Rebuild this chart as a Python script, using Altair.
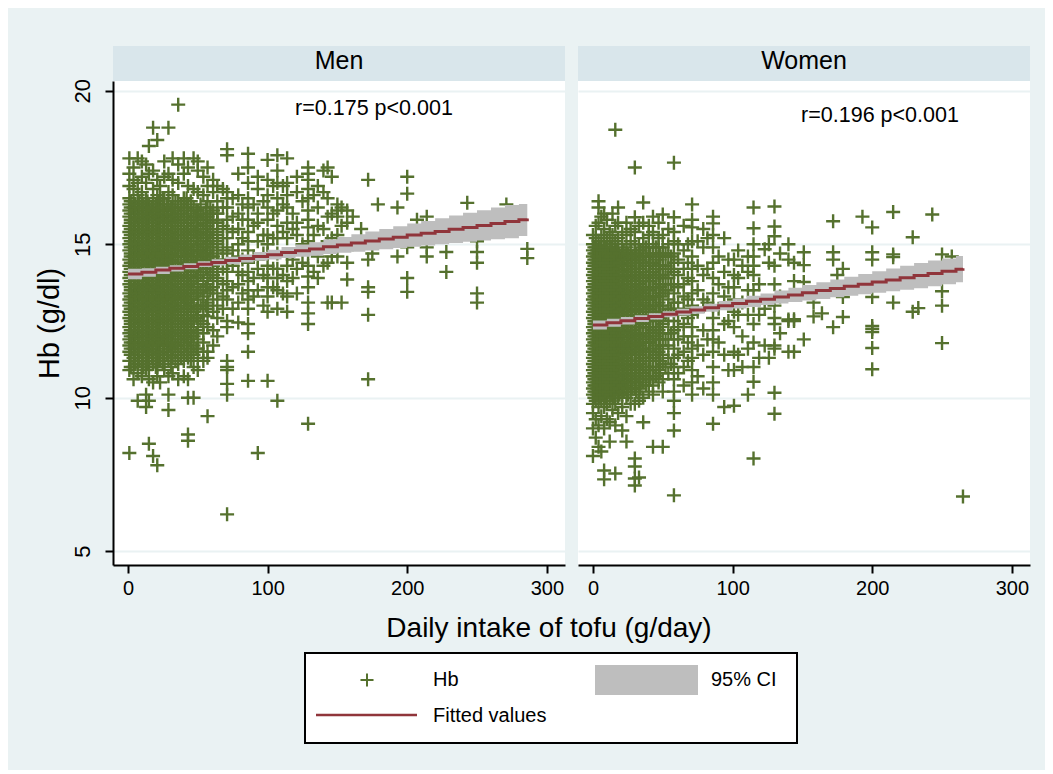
import altair as alt
import pandas as pd

FONT = "Liberation Sans"
BG = "#eaf2f3"
HEAD = "#d9e6eb"
GREEN = "#55712e"
RED = "#90353b"
GRAY = "#bebebe"
PLUS = "M-1,0H1M0,-1V1"

# ---------- Men: tofu intake columns and the Hb values read in each column
men_x = [1,4,7,10,13,15,18,21,23,26,29,32,36,40,43,47,50,54,57,61,64,68,71,75,79,82,86,90,93,97,100,104,107,111,114,118,121,125,129,133,136,140,143,146,150,153,157,161,167,172,175,179,193,200,207,214,228,243,250,271,286]
m01 = [8.2,10.9,11.2,11.5,11.7,11.9,12.1,12.3,12.6,12.8,13.0,13.2,13.4,13.7,13.9,14.1,14.3,14.5,14.8,15.0,15.2,15.4,15.6,15.9,16.1,16.3,16.5,16.9,17.3,17.8]
m02 = [10.6,11.0,11.3,11.6,11.8,12.0,12.2,12.5,12.7,12.9,13.1,13.3,13.5,13.8,14.0,14.2,14.4,14.6,14.9,15.1,15.3,15.5,15.7,16.0,16.2,16.4,16.8,17.1,17.5]
m03 = [9.9,10.8,11.1,11.4,11.6,11.9,12.1,12.4,12.6,12.8,13.0,13.3,13.5,13.7,13.9,14.2,14.4,14.7,14.9,15.1,15.3,15.6,15.8,16.0,16.3,16.6,17.0,17.8]
m04 = [10.7,11.0,11.2,11.5,11.8,12.0,12.3,12.5,12.7,12.9,13.2,13.4,13.6,13.8,14.1,14.3,14.5,14.8,15.0,15.2,15.4,15.7,15.9,16.1,16.4,16.7,17.2,17.7]
m05 = [9.7,10.1,10.9,11.3,11.5,11.7,12.0,12.2,12.4,12.7,12.9,13.1,13.3,13.6,13.8,14.0,14.3,14.5,14.7,15.0,15.2,15.4,15.6,15.9,16.2,16.5,17.0,17.6]
m06 = [8.5,9.9,10.6,11.0,11.2,11.5,11.8,12.1,12.3,12.6,12.8,13.0,13.2,13.5,13.7,13.9,14.1,14.4,14.6,14.8,15.1,15.3,15.5,15.8,16.0,16.3,17.3,18.2]
m07 = [8.1,10.5,11.1,11.4,11.6,11.9,12.2,12.4,12.7,12.9,13.1,13.4,13.6,13.8,14.0,14.2,14.5,14.7,14.9,15.2,15.4,15.6,15.9,16.1,16.4,16.8,17.4,18.8]
m08 = [7.8,10.7,11.0,11.3,11.5,11.8,12.0,12.3,12.5,12.8,13.0,13.2,13.5,13.7,13.9,14.2,14.4,14.6,14.9,15.1,15.3,15.5,15.8,16.0,16.3,16.6,17.1,18.4]
m09 = [10.5,11.2,11.4,11.7,11.9,12.1,12.4,12.6,12.9,13.1,13.3,13.6,13.8,14.1,14.3,14.5,14.8,15.0,15.2,15.5,15.7,15.9,16.2,16.5,16.9]
m10 = [10.9,11.1,11.3,11.6,11.9,12.1,12.3,12.6,12.8,13.1,13.3,13.5,13.8,14.0,14.3,14.5,14.7,15.0,15.2,15.4,15.7,15.9,16.1,16.5,17.2,17.7]
m11 = [9.6,10.1,10.7,11.2,11.5,11.7,12.0,12.2,12.5,12.7,12.9,13.2,13.4,13.7,13.9,14.1,14.4,14.6,14.9,15.1,15.3,15.6,15.8,16.1,16.3,16.7,17.3,18.8]
m12 = [10.8,11.3,11.6,11.8,12.1,12.3,12.6,12.8,13.0,13.3,13.5,13.8,14.0,14.2,14.5,14.7,15.0,15.2,15.4,15.7,15.9,16.2,16.6,17.1,17.8]
m13 = [10.6,11.1,11.4,11.7,11.9,12.2,12.4,12.7,12.9,13.2,13.4,13.6,13.9,14.1,14.4,14.6,14.9,15.1,15.3,15.6,15.8,16.0,16.4,17.0,17.6,19.55]
m14 = [10.7,11.2,11.5,11.8,12.0,12.3,12.5,12.8,13.0,13.3,13.5,13.8,14.1,14.3,14.6,14.8,15.1,15.3,15.5,15.8,16.1,16.5,17.3,17.8]
m15 = [8.8,8.6,10.0,10.6,11.3,11.6,11.9,12.1,12.4,12.6,12.9,13.1,13.4,13.7,13.9,14.2,14.4,14.7,14.9,15.2,15.4,15.7,15.9,16.3,16.9,17.5]
m16 = [10.0,11.0,11.4,11.7,12.0,12.3,12.5,12.8,13.0,13.3,13.6,13.8,14.1,14.3,14.6,14.8,15.1,15.4,15.6,15.9,16.2,16.8,17.8]
m17 = [10.9,11.3,11.6,11.9,12.2,12.6,12.9,13.2,13.4,13.7,14.0,14.2,14.5,14.8,15.0,15.3,15.6,15.8,16.1,16.7,17.4,17.7]
m18 = [11.2,11.5,11.8,12.1,12.4,12.7,13.0,13.3,13.5,13.8,14.1,14.4,14.7,14.9,15.2,15.5,15.7,16.0,16.6,17.2]
m19 = [9.4,11.3,11.5,12.3,12.65,12.9,13.1,13.4,13.7,13.9,14.2,14.5,14.8,15.1,15.3,15.6,15.9,16.4,16.9,17.5]
m20 = [11.7,12.2,12.8,13.2,13.6,14.0,14.3,14.6,14.9,15.2,15.5,15.8,16.1,16.7,17.1]
m21 = [12.0,12.6,13.0,13.4,13.8,14.1,14.4,14.7,15.0,15.3,15.7,16.0,16.4,16.9]
m22 = [12.9,13.3,13.7,14.2,14.5,14.8,15.2,15.6,16.2,16.8]
m23 = [6.2,10.1,10.45,10.9,11.0,11.2,12.3,12.5,13.2,13.5,13.8,14.1,14.4,14.7,14.9,15.2,15.5,15.8,16.2,16.5,16.7,17.9,18.1]
m24 = [12.9,13.6,14.3,14.8,15.4,15.9,16.5]
m25 = [12.45,13.1,13.7,14.1,14.6,15.0,15.5,16.0,16.6,17.3]
m26 = [13.4,14.0,14.5,15.2,15.8,16.3]
m27 = [10.55,11.5,12.1,12.4,12.9,13.2,13.5,13.8,14.1,14.4,14.8,15.1,15.4,15.8,16.2,16.5,17.0,17.5,17.95]
m28 = [13.3,13.9,14.6,15.6,16.3]
m29 = [8.2,13.5,14.2,14.5,15.1,15.7,16.0,16.8,17.2]
m30 = [13.0,14.0,14.7,15.3,16.4]
m31 = [10.55,12.8,13.3,13.6,13.9,14.3,14.7,15.0,15.3,15.8,16.2,16.6,17.1,17.75]
m32 = [13.6,14.2,15.2,16.0,16.9]
m33 = [9.9,12.9,13.5,13.9,14.2,14.7,15.2,15.6,16.1,16.5,17.0,17.4,17.9]
m34 = [13.4,14.0,15.4,16.3,16.9]
m35 = [12.8,13.3,13.8,14.3,14.6,15.2,15.7,16.2,16.6,17.0,17.8]
m36 = [13.9,14.5,15.5,16.0]
m37 = [13.4,14.2,15.3,15.7,16.7,17.2]
m38 = [14.4,15.0,16.4]
m39 = [9.15,12.4,12.75,13.1,13.6,13.95,14.3,14.7,15.1,15.55,15.8,16.1,16.5,16.8,17.1,17.3,17.5]
m40 = [14.1,15.3,16.6]
m41 = [13.9,14.6,15.6,16.2,16.9]
m42 = [14.3,15.5,16.7,17.4]
m43 = [13.1,14.4,15.1,15.9,16.5,17.5]
m44 = [13.1,14.6,15.2,16.0,17.2]
m45 = [14.6,15.3,15.9,16.1,16.3]
m46 = [13.1,15.6,16.2]
m47 = [13.85,14.4,15.7,16.1]
m48 = [15.0,15.9]
m49 = [15.5]
m50 = [10.6,12.7,13.45,13.6,14.5,17.1]
m51 = [14.7]
m52 = [16.3]
m53 = [14.6,16.2]
m54 = [13.45,13.9,14.9,16.65,17.2]
m55 = [15.8]
m56 = [14.6,14.9,15.9]
m57 = [14.1,14.75]
m58 = [16.35]
m59 = [13.1,13.4,14.4,14.75,15.1]
m60 = [16.3]
m61 = [14.55,14.85]
men_columns = [m01,m02,m03,m04,m05,m06,m07,m08,m09,m10,m11,m12,m13,m14,m15,m16,m17,m18,m19,m20,m21,m22,m23,m24,m25,m26,m27,m28,m29,m30,m31,m32,m33,m34,m35,m36,m37,m38,m39,m40,m41,m42,m43,m44,m45,m46,m47,m48,m49,m50,m51,m52,m53,m54,m55,m56,m57,m58,m59,m60,m61]

# second reading of the crowded part of the men's cloud
men_x2 = [2,5,8,11,14,17,20,22,25,28,31,34,38,42,45,49,52,56,59,64]
n01 = [11.0,11.4,11.6,11.8,12.0,12.2,12.4,12.5,12.7,12.9,13.1,13.3,13.5,13.6,13.8,14.0,14.2,14.4,14.6,14.7,14.9,15.1,15.3,15.5,15.7,15.8,16.0,16.2,16.4]
n02 = [11.1,11.3,11.7,12.0,12.1,12.3,12.4,12.6,12.8,13.0,13.2,13.4,13.6,13.7,13.9,14.1,14.3,14.5,14.6,14.8,15.0,15.2,15.4,15.6,15.8,16.1,16.3]
n03 = [11.2,11.5,11.8,12.0,12.2,12.3,12.5,12.7,12.9,13.1,13.3,13.4,13.6,13.8,14.0,14.1,14.3,14.6,14.8,15.0,15.2,15.4,15.5,15.7,15.9,16.2,16.4]
n04 = [11.0,11.3,11.6,11.7,11.9,12.2,12.4,12.6,12.8,13.0,13.1,13.3,13.5,13.7,13.9,14.0,14.2,14.4,14.6,14.7,14.9,15.1,15.3,15.5,15.6,15.8,16.0,16.2,16.3]
n05 = [11.1,11.4,11.6,11.8,12.1,12.3,12.5,12.6,12.8,13.0,13.2,13.4,13.5,13.7,13.9,14.1,14.3,14.4,14.6,14.8,15.1,15.3,15.5,15.7,15.8,16.0,16.4]
n06 = [11.3,11.6,11.7,11.9,12.0,12.2,12.4,12.7,12.9,13.1,13.3,13.5,13.6,13.8,14.0,14.2,14.3,14.5,14.7,14.9,15.0,15.2,15.4,15.6,15.9,16.1,16.2]
n07 = [11.0,11.3,11.5,11.8,12.0,12.1,12.3,12.5,12.6,12.8,13.0,13.2,13.3,13.5,13.7,13.9,14.1,14.3,14.4,14.6,14.8,15.0,15.3,15.5,15.7,15.8,16.0,16.3]
n08 = [11.2,11.4,11.7,11.9,12.2,12.4,12.6,12.7,12.9,13.1,13.4,13.6,13.8,14.0,14.1,14.3,14.5,14.7,14.8,15.0,15.2,15.4,15.6,15.9,16.1,16.4]
n09 = [11.1,11.5,11.8,12.0,12.3,12.5,12.7,12.8,13.0,13.2,13.4,13.5,13.7,13.9,14.0,14.2,14.4,14.6,14.7,14.9,15.1,15.3,15.6,15.8,16.0,16.2,16.5]
n10 = [11.4,11.7,11.9,12.0,12.2,12.4,12.5,12.7,12.9,13.1,13.2,13.4,13.6,13.8,13.9,14.1,14.3,14.5,14.8,15.0,15.2,15.4,15.5,15.7,15.9,16.1,16.3]
n11 = [11.0,11.3,11.6,11.8,12.1,12.3,12.4,12.6,12.8,13.0,13.1,13.3,13.5,13.7,13.9,14.0,14.2,14.4,14.5,14.7,14.9,15.1,15.2,15.4,15.6,15.8,16.0,16.2]
n12 = [11.2,11.5,11.7,12.0,12.2,12.5,12.7,12.9,13.0,13.2,13.4,13.6,13.8,14.0,14.1,14.3,14.6,14.8,15.0,15.1,15.3,15.5,15.7,15.9,16.1,16.4]
n13 = [11.3,11.6,11.9,12.1,12.3,12.5,12.6,12.8,13.1,13.3,13.5,13.7,13.9,14.0,14.2,14.4,14.6,14.8,14.9,15.1,15.3,15.5,15.7,16.0,16.2,16.3]
n14 = [11.4,11.7,12.0,12.2,12.4,12.6,12.9,13.1,13.2,13.4,13.6,13.9,14.1,14.3,14.5,14.7,14.9,15.0,15.2,15.4,15.6,15.9,16.2,16.5]
n15 = [11.2,11.5,11.8,12.0,12.2,12.5,12.7,13.0,13.2,13.5,13.7,13.8,14.0,14.3,14.5,14.8,15.0,15.3,15.5,15.8,16.0,16.4]
n16 = [11.6,12.1,12.6,12.9,13.4,13.9,14.1,14.4,14.6,14.9,15.2,15.4,15.6,15.9,16.1]
n17 = [12.5,13.0,13.5,14.0,14.3,14.6,14.8,15.1,15.3,15.5,15.8,16.0,16.3]
n18 = [13.0,13.6,14.2,14.5,14.7,15.0,15.3,15.6,15.9,16.2]
n19 = [13.5,14.0,14.3,14.6,14.9,15.2,15.4,15.7,16.0,16.2]
n20 = [13.9,14.2,14.5,14.8,15.1,15.4,15.7,16.0]
men_columns2 = [n01,n02,n03,n04,n05,n06,n07,n08,n09,n10,n11,n12,n13,n14,n15,n16,n17,n18,n19,n20]

# ---------- Women
wom_x = [0,2,4,6,8,10,12,14,16,18,21,24,27,30,33,36,40,43,47,50,54,58,61,65,68,71,75,79,82,86,90,94,97,101,104,107,111,115,119,123,126,130,134,140,144,151,158,164,172,175,179,193,200,215,229,233,243,250,257,265]
w01 = [8.1,9.0,9.5,9.8,10.1,10.3,10.5,10.7,10.9,11.1,11.3,11.5,11.7,11.9,12.1,12.3,12.6,12.8,13.0,13.2,13.4,13.6,13.8,14.0,14.2,14.4,14.6,14.8,15.0,15.3]
w02 = [8.7,9.3,9.9,10.2,10.4,10.6,10.8,11.0,11.2,11.4,11.6,11.8,12.0,12.2,12.4,12.7,12.9,13.1,13.3,13.5,13.7,13.9,14.1,14.3,14.5,14.7,14.9,15.2,15.6]
w03 = [8.4,9.1,9.7,10.0,10.3,10.5,10.7,10.9,11.1,11.3,11.5,11.7,11.9,12.1,12.3,12.5,12.8,13.0,13.2,13.4,13.6,13.8,14.0,14.2,14.4,14.6,14.8,15.1,15.7,16.2,16.4]
w04 = [8.25,9.4,9.9,10.2,10.4,10.6,10.8,11.0,11.2,11.4,11.6,11.8,12.0,12.2,12.4,12.6,12.9,13.1,13.3,13.5,13.7,13.9,14.1,14.3,14.5,14.7,14.9,15.3,15.9]
w05 = [7.34,7.63,9.0,9.7,10.1,10.3,10.5,10.7,10.9,11.1,11.3,11.5,11.7,11.9,12.1,12.3,12.5,12.7,13.0,13.2,13.4,13.6,13.8,14.0,14.2,14.4,14.6,14.8,15.1,15.5,16.0]
w06 = [9.3,9.8,10.0,10.3,10.6,10.8,11.0,11.2,11.4,11.6,11.9,12.1,12.3,12.5,12.7,12.9,13.1,13.3,13.6,13.8,14.0,14.2,14.4,14.7,14.9,15.2,15.8]
w07 = [8.57,9.2,9.9,10.2,10.5,10.7,10.9,11.1,11.3,11.5,11.7,11.9,12.2,12.4,12.6,12.8,13.0,13.2,13.4,13.7,13.9,14.1,14.3,14.5,14.8,15.0,15.4]
w08 = [9.6,10.0,10.3,10.6,10.8,11.0,11.2,11.4,11.6,11.8,12.0,12.3,12.5,12.7,12.9,13.1,13.4,13.6,13.8,14.0,14.3,14.5,14.7,14.9,15.3,16.0]
w09 = [7.53,9.1,9.8,10.1,10.4,10.6,10.9,11.1,11.3,11.5,11.7,11.9,12.1,12.4,12.6,12.8,13.0,13.3,13.5,13.7,13.9,14.2,14.4,14.6,14.8,15.1,15.6,18.73]
w10 = [9.5,10.0,10.2,10.5,10.7,11.0,11.2,11.4,11.6,11.8,12.1,12.3,12.5,12.7,13.0,13.2,13.4,13.7,13.9,14.1,14.4,14.6,14.8,15.2,15.7,16.2]
w11 = [8.93,9.7,10.1,10.4,10.6,10.9,11.1,11.3,11.6,11.8,12.0,12.2,12.5,12.7,12.9,13.1,13.4,13.6,13.8,14.1,14.3,14.5,14.7,15.0,15.4]
w12 = [8.57,9.4,10.0,10.3,10.5,10.8,11.0,11.3,11.5,11.7,11.9,12.2,12.4,12.6,12.9,13.1,13.3,13.5,13.8,14.0,14.2,14.5,14.7,14.9,15.3,15.7]
w13 = [9.8,10.2,10.5,10.7,11.0,11.2,11.5,11.7,12.0,12.2,12.4,12.7,12.9,13.2,13.4,13.6,13.9,14.1,14.3,14.6,14.8,15.1,15.5]
w14 = [7.14,7.37,7.76,8.02,9.8,10.3,10.6,10.9,11.1,11.4,11.6,11.9,12.1,12.3,12.6,12.8,13.1,13.3,13.5,13.8,14.0,14.2,14.5,14.7,15.0,15.4,15.88,17.5]
w15 = [7.4,9.9,10.1,10.4,10.7,11.0,11.2,11.5,11.7,12.0,12.3,12.5,12.8,13.0,13.3,13.5,13.7,14.0,14.2,14.5,14.8,15.0,15.6]
w16 = [9.2,10.0,10.5,10.8,11.0,11.3,11.6,11.8,12.1,12.4,12.6,12.9,13.1,13.4,13.6,13.9,14.1,14.4,14.6,14.9,15.2,15.7,16.36]
w17 = [10.2,10.6,10.9,11.2,11.5,11.8,12.1,12.3,12.6,12.9,13.2,13.5,13.8,14.0,14.3,14.6,14.9,15.3,15.6]
w18 = [8.4,10.1,10.4,10.7,11.0,11.3,11.6,11.9,12.2,12.5,12.8,13.0,13.3,13.6,13.9,14.1,14.4,14.7,15.0,15.4,15.9]
w19 = [10.5,10.9,11.2,11.5,11.9,12.2,12.5,12.8,13.1,13.4,13.7,14.0,14.3,14.6,14.9,15.2,15.7]
w20 = [8.4,10.2,10.6,11.1,11.4,11.7,12.1,12.4,12.7,13.0,13.4,13.7,14.0,14.3,14.6,14.9,15.3,15.97]
w21 = [10.8,11.3,11.7,12.1,12.5,12.9,13.2,13.5,13.9,14.2,14.6,15.0,15.5]
w22 = [6.82,8.93,9.5,9.9,10.2,10.6,11.0,11.3,11.6,11.9,12.2,12.5,12.8,13.1,13.4,13.7,14.1,14.4,14.7,15.1,15.4,15.88,17.66]
w23 = [10.8,11.4,11.9,12.3,12.7,13.1,13.6,14.0,14.5,15.0]
w24 = [10.4,11.0,11.5,12.0,12.4,12.9,13.3,13.7,14.2,14.8,15.6]
w25 = [11.2,11.8,12.6,13.2,13.9,14.4,15.0]
w26 = [10.1,10.5,10.9,11.3,11.6,12.0,12.3,12.7,13.0,13.4,13.8,14.2,14.6,15.1,15.55,15.8,16.3]
w27 = [10.7,11.7,12.8,13.5,14.3,15.1]
w28 = [10.3,11.4,12.2,13.2,14.0,14.9,15.5]
w29 = [11.9,13.1,14.2,15.2]
w30 = [9.15,10.1,10.5,11.0,11.5,11.9,12.2,12.6,13.0,13.4,13.9,14.4,14.9,15.3,15.68,15.9]
w31 = [11.8,12.9,13.7,14.6]
w32 = [9.7,11.4,12.4,13.3,14.1,15.2]
w33 = [10.9,12.5,13.6,14.5]
w34 = [9.74,10.9,11.5,12.3,12.8,13.2,13.6,14.0,14.5]
w35 = [11.4,12.7,13.9,14.8]
w36 = [11.0,12.0,13.1,14.3]
w37 = [10.1,11.6,12.7,13.5,14.1,14.6]
w38 = [8.02,10.52,11.0,11.8,12.4,13.0,13.5,14.0,14.3,14.6,15.0,15.52,16.2]
w39 = [11.3,12.7,13.7]
w40 = [11.7,12.9,14.84]
w41 = [11.3,14.4,15.0]
w42 = [9.48,10.16,11.6,11.7,12.4,12.6,13.0,13.7,14.3,15.26,15.58,16.23]
w43 = [12.1,13.3,14.7]
w44 = [11.5,12.55,12.5,14.5,15.0]
w45 = [11.5,12.56,12.5,14.4,13.8]
w46 = [11.9,13.77,14.32,14.74]
w47 = [12.65,13.1]
w48 = [12.75]
w49 = [12.3,14.5,14.74,15.75]
w50 = [14.0]
w51 = [12.63,13.28,14.2]
w52 = [15.9]
w53 = [10.93,11.62,12.14,12.25,12.34,13.28,14.5,14.74,15.55]
w54 = [13.1,14.58,14.67,16.05]
w55 = [12.8,15.23]
w56 = [12.92]
w57 = [15.97]
w58 = [11.78,13.0,13.47,14.67]
w59 = [14.6]
w60 = [6.78]
wom_columns = [w01,w02,w03,w04,w05,w06,w07,w08,w09,w10,w11,w12,w13,w14,w15,w16,w17,w18,w19,w20,w21,w22,w23,w24,w25,w26,w27,w28,w29,w30,w31,w32,w33,w34,w35,w36,w37,w38,w39,w40,w41,w42,w43,w44,w45,w46,w47,w48,w49,w50,w51,w52,w53,w54,w55,w56,w57,w58,w59,w60]

# second reading of the crowded part of the women's cloud
wom_x2 = [1,3,5,7,9,11,13,15,17,19,22,25,28,31,34,38,41,45,48,52,56]
v01 = [10.0,10.2,10.4,10.6,10.8,11.0,11.2,11.4,11.6,11.8,12.0,12.2,12.4,12.5,12.7,12.9,13.1,13.3,13.5,13.7,13.9,14.1,14.3,14.5,14.7,14.9]
v02 = [10.1,10.3,10.5,10.7,10.9,11.1,11.3,11.5,11.7,11.9,12.1,12.3,12.4,12.6,12.8,13.0,13.2,13.4,13.6,13.8,14.0,14.2,14.4,14.6,14.8]
v03 = [10.0,10.2,10.4,10.6,10.8,11.0,11.2,11.4,11.5,11.7,11.9,12.1,12.3,12.5,12.7,12.9,13.1,13.3,13.5,13.7,13.9,14.1,14.3,14.5,14.9]
v04 = [10.1,10.3,10.5,10.7,10.9,11.1,11.3,11.5,11.6,11.8,12.0,12.2,12.4,12.6,12.8,13.0,13.2,13.4,13.6,13.7,13.9,14.2,14.4,14.6,14.8]
v05 = [10.0,10.2,10.4,10.6,10.8,11.0,11.2,11.4,11.6,11.8,11.9,12.1,12.3,12.5,12.7,12.9,13.1,13.3,13.5,13.8,14.0,14.2,14.4,14.7,14.9]
v06 = [10.2,10.4,10.6,10.8,11.0,11.2,11.4,11.5,11.7,11.9,12.1,12.3,12.5,12.7,12.9,13.1,13.3,13.5,13.7,13.9,14.1,14.3,14.5,14.7]
v07 = [10.1,10.3,10.5,10.7,10.9,11.1,11.3,11.5,11.7,11.9,12.0,12.2,12.4,12.6,12.8,13.0,13.2,13.4,13.6,13.8,14.0,14.2,14.4,14.6,14.9]
v08 = [10.0,10.2,10.4,10.6,10.8,11.0,11.2,11.4,11.6,11.8,12.0,12.2,12.3,12.5,12.7,12.9,13.1,13.3,13.5,13.7,13.9,14.1,14.3,14.5,14.7]
v09 = [10.3,10.5,10.7,10.9,11.1,11.3,11.5,11.7,11.9,12.1,12.3,12.5,12.7,12.8,13.0,13.2,13.4,13.6,13.8,14.0,14.2,14.4,14.6,14.8]
v10 = [10.1,10.3,10.5,10.7,10.9,11.1,11.3,11.4,11.6,11.8,12.0,12.2,12.4,12.6,12.8,13.0,13.2,13.4,13.6,13.8,14.0,14.2,14.4,14.7]
v11 = [10.2,10.4,10.6,10.8,11.0,11.2,11.4,11.6,11.8,12.0,12.2,12.3,12.5,12.7,12.9,13.1,13.3,13.5,13.7,13.9,14.1,14.3,14.5,14.8]
v12 = [10.1,10.3,10.5,10.8,11.0,11.2,11.4,11.6,11.8,12.0,12.1,12.3,12.5,12.8,13.0,13.2,13.4,13.6,13.9,14.1,14.3,14.5,14.7]
v13 = [10.3,10.6,10.8,11.0,11.2,11.4,11.6,11.8,12.0,12.2,12.4,12.6,12.8,13.0,13.2,13.4,13.7,13.9,14.1,14.4,14.6]
v14 = [10.2,10.5,10.7,11.0,11.2,11.5,11.7,11.9,12.1,12.4,12.6,12.8,13.0,13.3,13.5,13.7,13.9,14.2,14.4,14.7]
v15 = [10.3,10.6,10.9,11.1,11.4,11.6,11.9,12.1,12.3,12.5,12.7,13.0,13.2,13.4,13.6,13.9,14.2,14.5,14.8]
v16 = [10.4,10.7,11.0,11.3,11.5,11.8,12.0,12.3,12.5,12.8,13.0,13.3,13.6,13.8,14.0,14.3,14.6,14.9]
v17 = [10.6,10.9,11.2,11.5,11.8,12.0,12.3,12.6,12.9,13.2,13.5,13.8,14.1,14.4,14.7]
v18 = [10.7,11.0,11.4,11.7,12.0,12.3,12.7,13.0,13.3,13.6,13.9,14.2,14.5,14.9]
v19 = [10.8,11.2,11.6,11.9,12.3,12.6,13.0,13.3,13.6,14.0,14.3,14.7]
v20 = [11.0,11.9,12.7,13.5,13.9,14.3,14.7]
v21 = [11.1,12.1,12.9,13.7,14.2,14.6]
wom_columns2 = [v01,v02,v03,v04,v05,v06,v07,v08,v09,v10,v11,v12,v13,v14,v15,v16,v17,v18,v19,v20,v21]

# ---------- Fitted lines and 95% CI
men_fit_x = [0,10,20,30,40,50,60,70,80,90,100,110,120,130,140,150,160,170,180,190,200,210,220,230,240,250,260,270,280,286]
men_fit = [14.03,14.09,14.16,14.22,14.28,14.35,14.41,14.47,14.54,14.60,14.66,14.73,14.79,14.85,14.92,14.98,15.04,15.11,15.17,15.23,15.30,15.36,15.42,15.49,15.55,15.61,15.68,15.74,15.80,15.84]
men_hi = [14.20,14.22,14.27,14.32,14.38,14.45,14.51,14.59,14.67,14.75,14.82,14.91,14.99,15.07,15.16,15.24,15.33,15.42,15.50,15.59,15.68,15.76,15.85,15.94,16.03,16.11,16.20,16.28,16.31,16.33]
men_lo = [13.86,13.94,14.03,14.11,14.19,14.26,14.31,14.36,14.41,14.46,14.50,14.55,14.59,14.63,14.68,14.72,14.76,14.80,14.84,14.88,14.92,14.96,15.00,15.04,15.08,15.12,15.16,15.20,15.27,15.33]
wom_fit_x = [0,10,20,30,40,50,60,70,80,90,100,110,120,130,140,150,160,170,180,190,200,210,220,230,240,250,260,265]
wom_fit = [12.37,12.44,12.51,12.58,12.65,12.72,12.79,12.86,12.93,13.00,13.07,13.14,13.21,13.28,13.35,13.42,13.49,13.56,13.63,13.70,13.77,13.84,13.91,13.98,14.05,14.12,14.19,14.22]
wom_hi = [12.52,12.57,12.63,12.69,12.75,12.82,12.90,12.98,13.06,13.15,13.23,13.32,13.40,13.49,13.58,13.67,13.76,13.85,13.94,14.03,14.12,14.21,14.30,14.39,14.47,14.54,14.62,14.64]
wom_lo = [12.22,12.31,12.39,12.47,12.55,12.62,12.68,12.74,12.80,12.85,12.91,12.96,13.02,13.07,13.12,13.17,13.22,13.27,13.32,13.37,13.42,13.47,13.52,13.57,13.63,13.70,13.76,13.80]

panels = ["Men", "Women"]
y_ticks = [5, 10, 15, 20]
x_ticks = [0, 100, 200, 300]
notes = ["r=0.175 p<0.001", "r=0.196 p<0.001"]
x_title = "Daily intake of tofu (g/day)"
y_title = "Hb (g/dl)"
legend_labels = ["Hb", "95% CI", "Fitted values"]

X_DOM = [-10.7, 313]
Y_DOM = [4.55, 20.32]
W, H = 452, 484


def panel(name, xs, cols, xs2, cols2, fx, fit, lo, hi, note, note_px, note_py, left):
    pts = pd.DataFrame([{"x": x, "y": v} for x, c in list(zip(xs, cols)) + list(zip(xs2, cols2)) for v in c])
    fitdf = pd.DataFrame({"x": fx, "fit": fit, "lo": lo, "hi": hi})
    xs_ = alt.Scale(domain=X_DOM, nice=False, zero=False)
    ys_ = alt.Scale(domain=Y_DOM, nice=False, zero=False)
    xax = alt.Axis(values=x_ticks, title=None, grid=False, tickSize=8, tickWidth=2, domainWidth=2,
                   domainColor="black", tickColor="black", labelFontSize=20, labelFont=FONT,
                   labelColor="black", labelPadding=5, format="d")
    if left:
        yax = alt.Axis(values=y_ticks, title=y_title, grid=True, gridColor=BG, gridWidth=2, tickSize=8,
                       tickWidth=2, domainWidth=2, domainColor="black", tickColor="black",
                       labelFontSize=22, labelFont=FONT, labelColor="black", labelAngle=270,
                       labelAlign="center", labelBaseline="bottom", labelPadding=11,
                       titleFontSize=29, titleFont=FONT, titleFontWeight="normal", titleColor="black",
                       titlePadding=7, format="d")
    else:
        yax = alt.Axis(values=y_ticks, title=None, grid=True, gridColor=BG, gridWidth=2, ticks=False,
                       labels=False, domain=False)
    x = alt.X("x:Q", scale=xs_, axis=xax)
    y = alt.Y("y:Q", scale=ys_, axis=yax)
    header = alt.Chart(pd.DataFrame({"t": [name]})).mark_rect(color=HEAD).encode(
        x=alt.value(0), x2=alt.value(W), y=alt.value(-35), y2=alt.value(0))
    head_text = alt.Chart(pd.DataFrame({"t": [name]})).mark_text(
        font=FONT, fontSize=25, color="black", baseline="middle", align="center").encode(
        x=alt.value(W / 2), y=alt.value(-20), text="t:N")
    scatter = alt.Chart(pts).mark_point(shape=PLUS, size=196, filled=False, strokeWidth=2.4, opacity=1,
                                        color=GREEN).encode(x=x, y=y)
    band = alt.Chart(fitdf).mark_area(color=GRAY, opacity=1, interpolate="step-after").encode(
        x=alt.X("x:Q", scale=xs_, axis=xax), y=alt.Y("lo:Q", scale=ys_, axis=yax), y2="hi:Q")
    line = alt.Chart(fitdf).mark_line(color=RED, strokeWidth=3, interpolate="step-after").encode(
        x=alt.X("x:Q", scale=xs_, axis=xax), y=alt.Y("fit:Q", scale=ys_, axis=yax))
    note_mark = alt.Chart(pd.DataFrame({"t": [note]})).mark_text(
        font=FONT, fontSize=21.5, color="black", baseline="middle", align="center").encode(
        x=alt.value(note_px), y=alt.value(note_py), text="t:N")
    return alt.layer(scatter, band, line, note_mark, header, head_text).properties(width=W, height=H)


men = panel(panels[0], men_x, men_columns, men_x2, men_columns2, men_fit_x, men_fit, men_lo, men_hi, notes[0], 261, 28, True)
wom = panel(panels[1], wom_x, wom_columns, wom_x2, wom_columns2, wom_fit_x, wom_fit, wom_lo, wom_hi, notes[1], 302, 35, False)
top = alt.hconcat(men, wom, spacing=13)

one = pd.DataFrame({"a": [0]})
LX = 192
box = alt.Chart(one).mark_rect(fill="white", stroke="black", strokeWidth=2).encode(
    x=alt.value(LX), x2=alt.value(LX + 492), y=alt.value(0), y2=alt.value(90))
leg_plus = alt.Chart(one).mark_point(shape=PLUS, size=170, filled=False, strokeWidth=2, opacity=1, color=GREEN).encode(
    x=alt.value(254), y=alt.value(27))
leg_band = alt.Chart(one).mark_rect(color=GRAY).encode(
    x=alt.value(482), x2=alt.value(585), y=alt.value(12), y2=alt.value(42))
leg_line = alt.Chart(one).mark_rule(color=RED, strokeWidth=2.5).encode(
    x=alt.value(203), x2=alt.value(304), y=alt.value(62))
def label(t, px, py, size=20, align="left"):
    return alt.Chart(pd.DataFrame({"t": [t]})).mark_text(font=FONT, fontSize=size, color="black",
        align=align, baseline="middle").encode(x=alt.value(px), y=alt.value(py), text="t:N")
legend = alt.layer(box, leg_plus, leg_band, leg_line,
                   label(legend_labels[0], 320, 27), label(legend_labels[1], 598, 27),
                   label(legend_labels[2], 320, 63),
                   label(x_title, 436, -24, size=28, align="center")).properties(
    width=918, height=90, view=alt.ViewConfig(fill=None, stroke=None))

chart = alt.vconcat(top, legend, spacing=17).properties(
    padding={"left": 27, "top": 38, "right": 14, "bottom": 26}, background=BG
).configure_view(stroke=None, fill="white")

chart.save("out.html", embed_options={"renderer": "svg", "actions": False})
